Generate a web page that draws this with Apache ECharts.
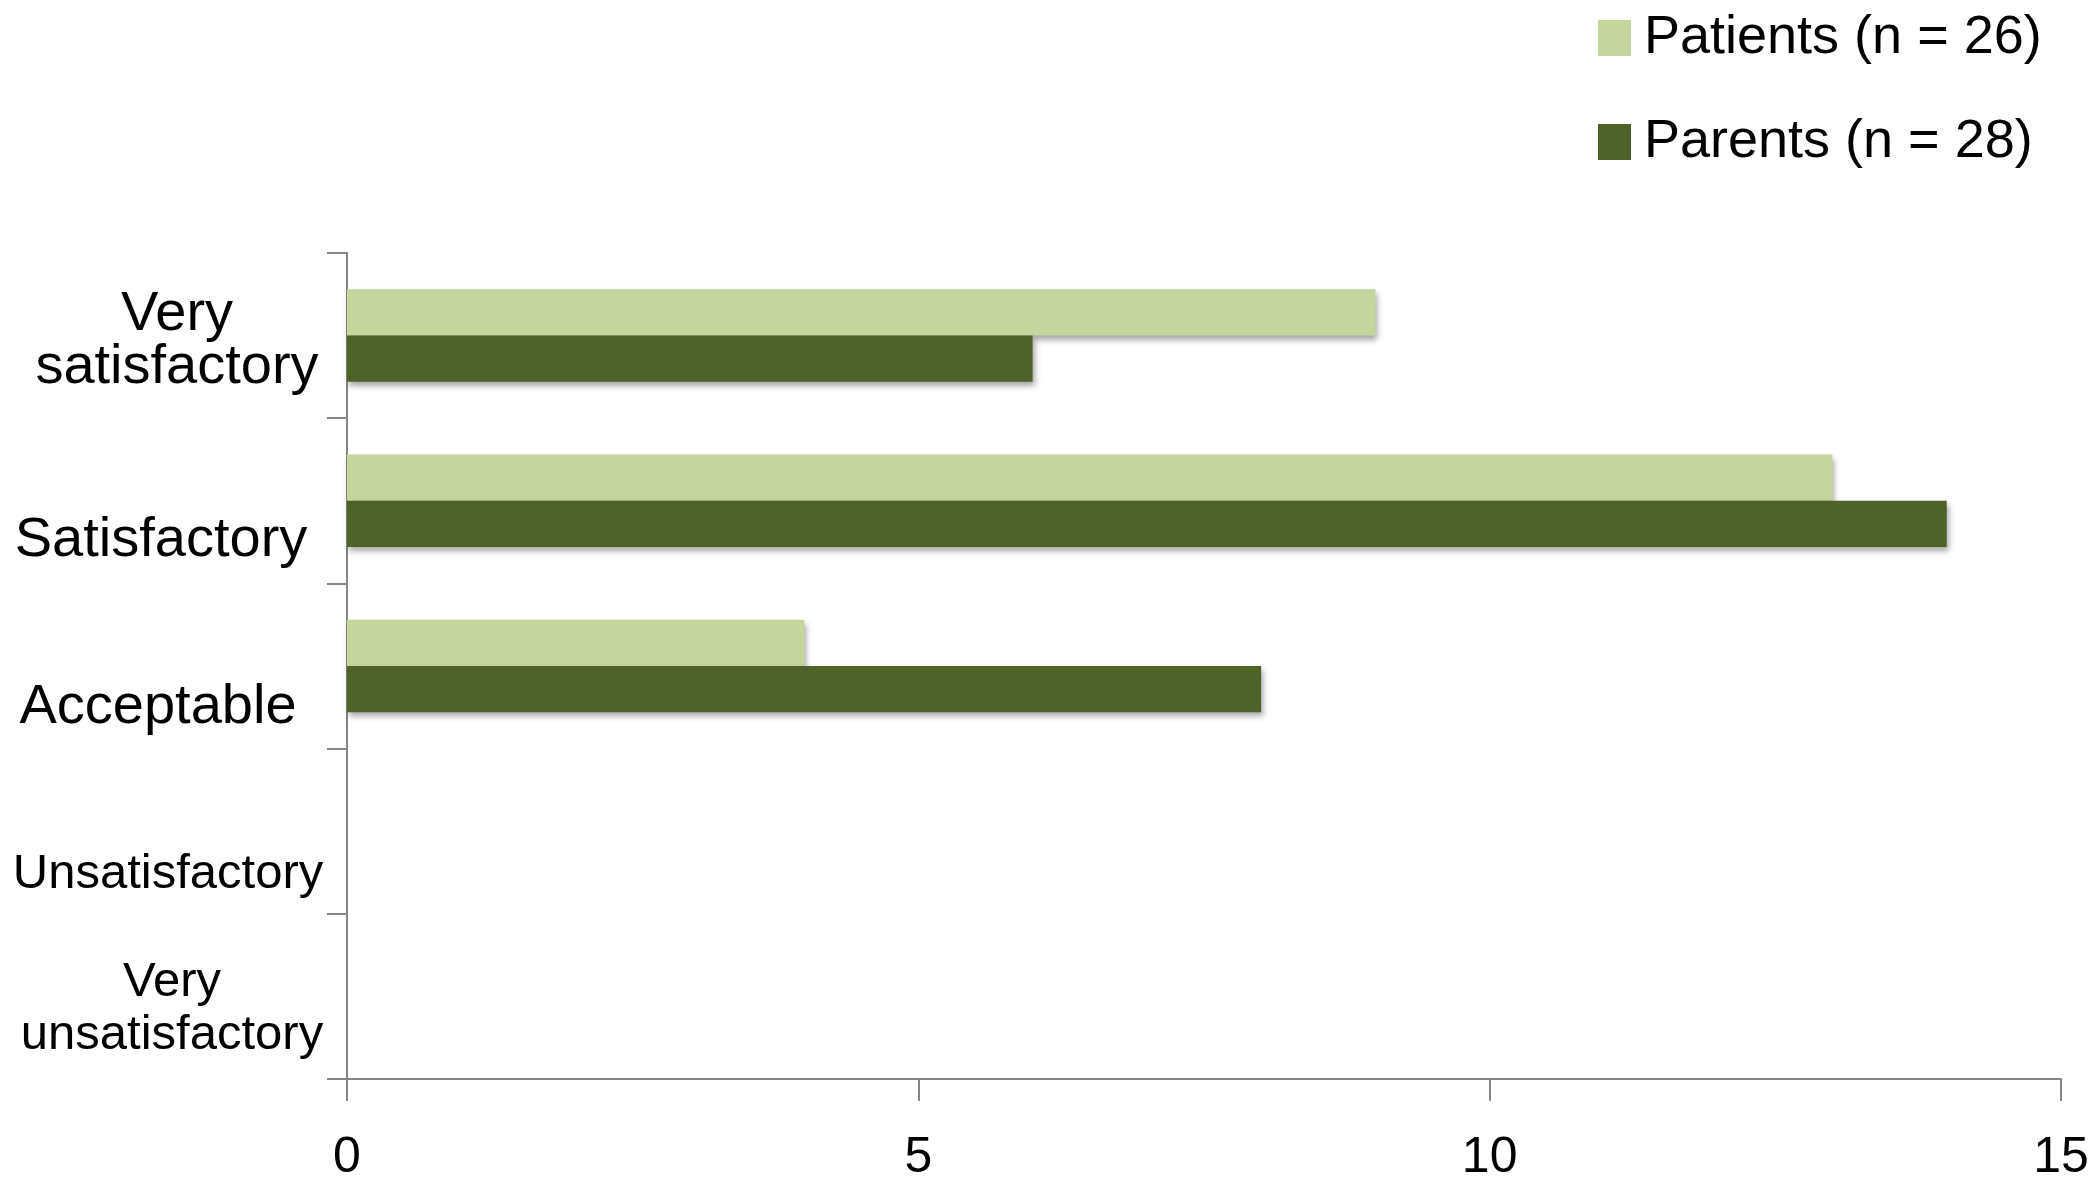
<!DOCTYPE html>
<html>
<head>
<meta charset="utf-8">
<script src="https://cdn.jsdelivr.net/npm/echarts@6/dist/echarts.min.js"></script>
<style>
  html, body { margin: 0; padding: 0; background: #fff; }
  #chart { width: 2091px; height: 1188px; }
</style>
</head>
<body>
<div id="chart"></div>
<script>
// categories, top to bottom
const categories = [
  "Very\nsatisfactory",
  "Satisfactory",
  "Acceptable",
  "Unsatisfactory",
  "Very\nunsatisfactory"
];
const patients = [9, 13, 4, 0, 0];
const parents = [6, 14, 8, 0, 0];
const xTicks = [0, 5, 10, 15];

const seriesNames = ["Patients (n = 26)", "Parents (n = 28)"];

// label tweaks: size, line height, downward shift, sideways shift
const labelStyles = [
  { size: 56, lh: 53, dy: 5, dx: 10 },
  { size: 56, lh: 54, dy: 40, dx: -6 },
  { size: 56, lh: 54, dy: 42, dx: -9 },
  { size: 49, lh: 51, dy: 43, dx: 1 },
  { size: 49, lh: 53, dy: 13, dx: 5 }
];

// a thin spacer line on top of each label pushes the text down by dy
const rich = {};
labelStyles.forEach((s, i) => {
  const pl = s.dx > 0 ? 2 * s.dx : 0;
  const pr = s.dx < 0 ? -2 * s.dx : 0;
  rich["s" + i] = { fontSize: 2, lineHeight: 2 * s.dy, padding: [0, pr, 0, pl] };
  rich["t" + i] = { fontSize: s.size, lineHeight: s.lh, color: "#000", padding: [0, pr, 0, pl] };
});

const chart = echarts.init(document.getElementById("chart"));

const axisGray = "#868686";
const font = "'Liberation Sans', Arial, Helvetica, sans-serif";

const barShadow = {
  shadowBlur: 6,
  shadowOffsetX: 2,
  shadowOffsetY: 4,
  shadowColor: "rgba(0, 0, 0, 0.35)"
};

const option = {
  animation: false,
  backgroundColor: "#ffffff",
  textStyle: { fontFamily: font, color: "#000" },
  legend: {
    orient: "vertical",
    left: 1593,
    top: 6,
    itemWidth: 33,
    itemHeight: 36,
    itemGap: 50,
    icon: "rect",
    selectedMode: false,
    textStyle: { fontSize: 54, color: "#000", fontFamily: font, padding: [0, 0, 0, 8] },
    data: seriesNames
  },
  grid: {
    left: 347,
    right: 30,
    top: 253,
    bottom: 109,
    containLabel: false,
    outerBoundsMode: "none"
  },
  xAxis: {
    type: "value",
    min: 0,
    max: 15,
    interval: 5,
    splitLine: { show: false },
    axisLine: { show: true, lineStyle: { color: axisGray, width: 2 } },
    axisTick: { show: true, length: 22, lineStyle: { color: axisGray, width: 2 } },
    axisLabel: {
      fontSize: 50,
      color: "#000",
      fontFamily: font,
      margin: 54,
      formatter: v => (xTicks.includes(v) ? String(v) : "")
    }
  },
  yAxis: {
    type: "category",
    inverse: true,
    data: categories,
    axisLine: { show: true, lineStyle: { color: axisGray, width: 2 } },
    axisTick: { show: true, length: 20, lineStyle: { color: axisGray, width: 2 } },
    splitLine: { show: false },
    axisLabel: {
      interval: 0,
      align: "center",
      margin: 180,
      color: "#000",
      fontFamily: font,
      rich: rich,
      formatter: (value, index) =>
        "{s" + index + "| }\n" +
        value.split("\n").map(line => "{t" + index + "|" + line + "}").join("\n")
    }
  },
  series: [
    {
      name: seriesNames[0],
      type: "bar",
      data: patients,
      barGap: "0%",
      barCategoryGap: "44%",
      itemStyle: Object.assign({ color: "#C4D69B" }, barShadow)
    },
    {
      name: seriesNames[1],
      type: "bar",
      data: parents,
      barGap: "0%",
      barCategoryGap: "44%",
      itemStyle: Object.assign({ color: "#4F6228" }, barShadow)
    }
  ]
};

chart.setOption(option);
</script>
</body>
</html>
